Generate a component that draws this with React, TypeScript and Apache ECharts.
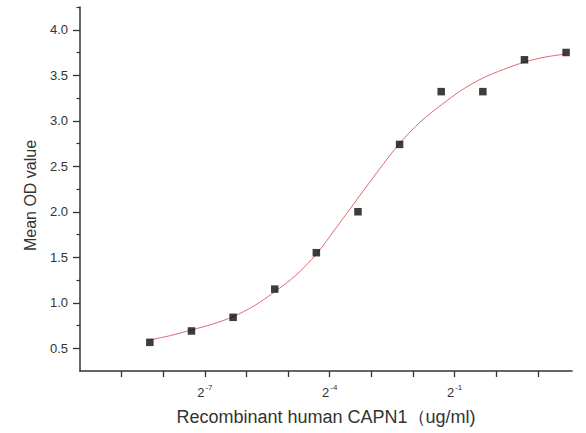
import React, { useEffect, useRef } from "react";
import * as echarts from "echarts";

// Concentrations (ug/ml), two-fold dilution series
const concentrations = [0.003125, 0.00625, 0.0125, 0.025, 0.05, 0.1, 0.2, 0.4, 0.8, 1.6, 3.2];
// Mean OD values
const odValues = [0.565, 0.69, 0.84, 1.15, 1.55, 2.0, 2.74, 3.32, 3.32, 3.67, 3.75];

// Fitted curve (x as log2 of concentration)
const curveLog2 = [
  -8.32, -7.82, -7.32, -6.82, -6.32, -5.82, -5.32, -4.82, -4.32, -3.82, -3.32,
  -2.82, -2.32, -1.82, -1.32, -0.82, -0.32, 0.18, 0.68, 1.18, 1.68,
];
const curveOd = [
  0.591, 0.64, 0.701, 0.765, 0.847, 0.965, 1.121, 1.3, 1.535, 1.84, 2.151,
  2.46, 2.752, 2.99, 3.174, 3.34, 3.47, 3.565, 3.645, 3.7, 3.734,
];

// Axis ticks
const xTickExponents = [-9, -8, -7, -6, -5, -4, -3, -2, -1, 0, 1];
const xLabelExponents = [-7, -4, -1];
const yMajorTicks = [0.5, 1.0, 1.5, 2.0, 2.5, 3.0, 3.5, 4.0];
const yMinorTicks = [0.75, 1.25, 1.75, 2.25, 2.75, 3.25, 3.75, 4.25];

const axisColor = "#333";
const textColor = "#333";
const fontFamily = "'Liberation Sans', Arial, sans-serif";

export default function App() {
  const ref = useRef<HTMLDivElement>(null);

  useEffect(() => {
    if (!ref.current) return;
    const chart = echarts.init(ref.current, undefined, { renderer: "svg" });
    const points = concentrations.map((c, i) => [Math.log2(c), odValues[i]]);
    const curve = curveLog2.map((x, i) => [x, curveOd[i]]);

    chart.setOption({
      animation: false,
      backgroundColor: "#fff",
      textStyle: { fontFamily },
      grid: { left: 80, right: 14, top: 7, bottom: 62, outerBoundsMode: "none", containLabel: false },
      xAxis: {
        type: "value",
        min: -10,
        max: 1.82,
        name: "Recombinant human CAPN1（ug/ml)",
        nameLocation: "middle",
        nameGap: 37,
        nameTextStyle: { fontSize: 18, color: textColor, fontFamily },
        splitLine: { show: false },
        axisLine: { show: true, onZero: false, lineStyle: { color: axisColor, width: 1.5 } },
        axisTick: {
          show: true,
          customValues: xTickExponents,
          length: 6,
          lineStyle: { color: axisColor, width: 1.3 },
        },
        axisLabel: {
          customValues: xLabelExponents,
          margin: 12,
          formatter: (v: number) => `{b|2}{s|${v}}`,
          rich: {
            b: { fontSize: 13, color: textColor, fontFamily, lineHeight: 16, verticalAlign: "bottom" },
            s: { fontSize: 8, color: textColor, fontFamily, lineHeight: 16, verticalAlign: "top", padding: [0, 0, 0, 1] },
          },
        },
      },
      yAxis: [
        {
          type: "value",
          min: 0.25,
          max: 4.25,
          name: "Mean OD value",
          nameLocation: "middle",
          nameRotate: 90,
          nameGap: 42,
          nameTextStyle: { fontSize: 16, color: textColor, fontFamily, padding: [0, 13, 0, 0] },
          splitLine: { show: false },
          axisLine: { show: true, onZero: false, lineStyle: { color: axisColor, width: 1.5 } },
          axisTick: {
            show: true,
            customValues: yMajorTicks,
            length: 7,
            lineStyle: { color: axisColor, width: 1.3 },
          },
          axisLabel: {
            customValues: yMajorTicks,
            margin: 12,
            fontSize: 13,
            color: textColor,
            fontFamily,
            formatter: (v: number) => v.toFixed(1),
          },
        },
        {
          type: "value",
          min: 0.25,
          max: 4.25,
          position: "left",
          offset: 0,
          splitLine: { show: false },
          axisLine: { show: false, onZero: false },
          axisTick: {
            show: true,
            customValues: yMinorTicks,
            length: 3.5,
            lineStyle: { color: axisColor, width: 1.2 },
          },
          axisLabel: { show: false },
        },
      ],
      series: [
        {
          type: "line",
          data: curve,
          smooth: 0.3,
          showSymbol: false,
          symbol: "none",
          lineStyle: { color: "#dc6a72", width: 1 },
          z: 2,
        },
        {
          type: "scatter",
          data: points,
          symbol: "rect",
          symbolSize: 7.5,
          itemStyle: { color: "#0d0d0d" },
          z: 3,
        },
      ],
    });

    return () => chart.dispose();
  }, []);

  return (
    <div
      ref={ref}
      style={{ position: "fixed", left: 0, top: 0, width: 586, height: 433, background: "#fff" }}
    />
  );
}
